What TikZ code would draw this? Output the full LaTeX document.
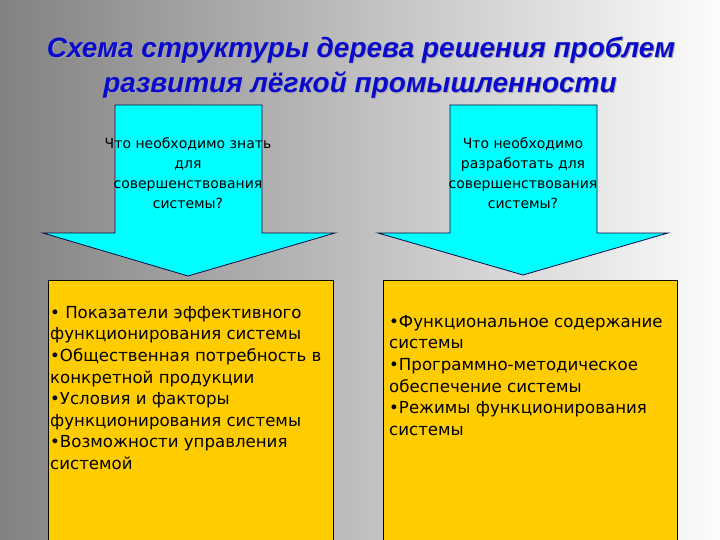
\documentclass[tikz,border=0pt]{standalone}
\usepackage{fontspec}
\setmainfont{Liberation Sans}
\newfontfamily\bodyfont{DejaVu Sans}
\definecolor{bgleft}{RGB}{130,130,130}
\definecolor{bgmid}{RGB}{212,212,212}
\definecolor{bgright}{RGB}{252,252,252}
\definecolor{titleblue}{RGB}{10,10,205}
\definecolor{arrowcyan}{RGB}{0,255,255}
\definecolor{arrowline}{RGB}{10,10,70}
\definecolor{boxyellow}{RGB}{255,204,0}
\tikzset{
  titletext/.style={font=\bfseries\itshape\fontsize{28}{30}\selectfont, text=titleblue, inner sep=0pt},
  titleshadow/.style={font=\bfseries\itshape\fontsize{28}{30}\selectfont, text=black!35, inner sep=0pt},
  arrowshape/.style={fill=arrowcyan, draw=arrowline, line width=0.8pt, line join=miter},
  qtext/.style={font=\bodyfont\fontsize{14}{20}\selectfont, align=center, inner sep=0pt, text=black},
  yellowbox/.style={fill=boxyellow, draw=black, line width=0.9pt},
  itemtext/.style={font=\bodyfont\fontsize{16.6}{21.6}\selectfont, align=left, inner sep=0pt, anchor=north west, text=black}
}
\begin{document}
\begin{tikzpicture}[x=1pt,y=-1pt]
\useasboundingbox (0,0) rectangle (720,540);
\shade[left color=bgleft, middle color=bgmid, right color=bgright] (0,0) rectangle (720,540);
% title
\node[titleshadow] (t1s) at (362,51) {Схема структуры дерева решения проблем};
\node[titleshadow] (t2s) at (361,86) {развития лёгкой промышленности};
\node[titletext] (t1) at (361,50) {Схема структуры дерева решения проблем};
\node[titletext] (t2) at (360,85) {развития лёгкой промышленности};
% boxes
\draw[yellowbox] (48,280) rectangle (333,542);
\draw[yellowbox] (383,280) rectangle (677,542);
% arrows
\draw[arrowshape] (115,105) -- (262,105) -- (262,233) -- (335,233) -- (188,276) -- (43,233) -- (115,233) -- cycle;
\draw[arrowshape] (450,105) -- (597,105) -- (597,233) -- (668,233) -- (523,275) -- (378,233) -- (450,233) -- cycle;
% arrow texts
\node[qtext] (q1) at (188,173) {Что необходимо знать\\для\\совершенствования\\системы?};
\node[qtext] (q2) at (523,173) {Что необходимо\\разработать для\\совершенствования\\системы?};
% box texts
\node[itemtext] (l1) at (50,306) {• Показатели эффективного\\функционирования системы\\•Общественная потребность в\\конкретной продукции\\•Условия и факторы\\функционирования системы\\•Возможности управления\\системой};
\node[itemtext] (r1) at (389,315) {•Функциональное содержание\\системы\\•Программно-методическое\\обеспечение системы\\•Режимы функционирования\\системы};
\end{tikzpicture}
\end{document}
